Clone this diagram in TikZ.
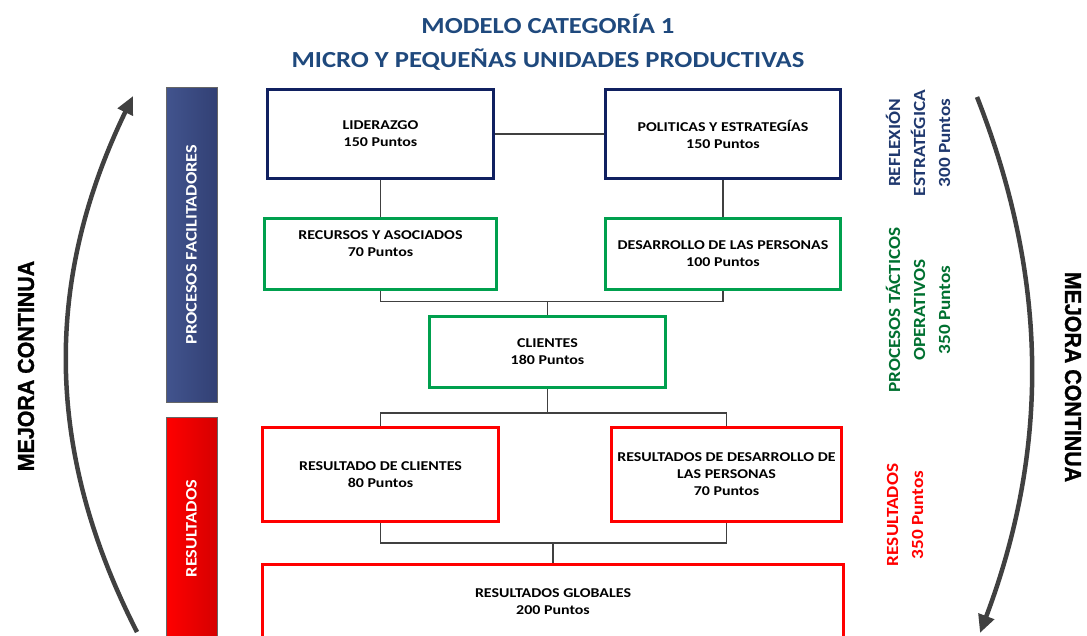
\documentclass[tikz,border=0pt]{standalone}
\usepackage{fontspec}
\usepackage{graphicx}
\setmainfont{Carlito}
\newfontfamily\titlefont[FakeStretch=1.16]{Carlito}
\newfontfamily\boxfont[FakeStretch=1.18]{Carlito}
\newfontfamily\sidefont[FakeStretch=1.13]{Carlito}
\newfontfamily\barfont[FakeStretch=1.14]{Carlito}
\newfontfamily\arialfont[FakeBold=1.2]{Liberation Sans}
\usepackage{tikz}
\usetikzlibrary{calc,arrows.meta}

\definecolor{navy}{RGB}{16,32,96}
\definecolor{titleblue}{RGB}{31,73,125}
\definecolor{boxgreen}{RGB}{0,160,78}
\definecolor{txtgreen}{RGB}{0,112,48}
\definecolor{txtnavy}{RGB}{31,56,110}
\definecolor{linegray}{RGB}{64,64,64}

\newcommand{\mejoralabel}{\scalebox{0.93}[1]{MEJORA CONTINUA}}

\tikzset{
  box/.style={draw, line width=3pt, fill=white, align=center, inner sep=1pt,
    font=\boxfont\bfseries\fontsize{13.5}{17}\selectfont},
  bluebox/.style={box, draw=navy},
  greenbox/.style={box, draw=boxgreen},
  redbox/.style={box, draw=red},
  bar/.style={draw=black!60, line width=0.8pt, rotate=90, text=white,
    font=\barfont\bfseries\fontsize{16}{18}\selectfont},
  side/.style={rotate=90, align=center, font=\sidefont\bfseries\fontsize{17}{25}\selectfont},
  link/.style={draw=linegray, line width=1.5pt},
  mejora/.style={draw=linegray, line width=4.5pt, -{Triangle[length=18pt,width=16pt]}},
  mejoratext/.style={font=\arialfont\bfseries\fontsize{23}{28}\selectfont, text=black},
}

\begin{document}
\begin{tikzpicture}[x=1pt, y=-1pt]
        \useasboundingbox (0,0) rectangle (1087,635);

        % Title
        \node[align=center, text=titleblue, font=\titlefont\bfseries\fontsize{23}{34}\selectfont] (Title) at (548, 42) {MODELO CATEGORÍA 1\\MICRO Y PEQUEÑAS UNIDADES PRODUCTIVAS};

        % Bars
        \node[bar, minimum width=315, minimum height=51, left color={rgb,255:red,66;green,84;blue,142}, right color={rgb,255:red,50;green,64;blue,116}] (Facilitadores) at (191.5, 244.5) {PROCESOS FACILITADORES};
        \node[bar, minimum width=223, minimum height=51, left color={rgb,255:red,255;green,0;blue,0}, right color={rgb,255:red,214;green,0;blue,0}] (Resultados) at (191.5, 528.5) {RESULTADOS};

        % Strategic level
        \node[bluebox, minimum width=226, minimum height=89] (Liderazgo) at (380.5, 134) {LIDERAZGO\\150 Puntos};
        \node[bluebox, minimum width=235, minimum height=89] (Politicas) at (723, 134) {POLITICAS Y ESTRATEGÍAS\\150 Puntos};
        \draw[link] (Liderazgo) -- (Politicas);

        % Operative level
        \node[greenbox, minimum width=232, minimum height=71] (Recursos) at (380.5, 254) {RECURSOS Y ASOCIADOS\\70 Puntos\\[4pt]};
        \node[greenbox, minimum width=235, minimum height=71] (Desarrollo) at (723, 254) {DESARROLLO DE LAS PERSONAS\\100 Puntos};
        \node[greenbox, minimum width=236, minimum height=71] (Clientes) at (547.5, 352) {CLIENTES\\180 Puntos};
        \draw[link] (Liderazgo.south) -- (Recursos.north);
        \draw[link] (Politicas.south) -- (Desarrollo.north);
        \coordinate (j1) at ($(Recursos.south)+(0,10.5)$);
        \draw[link] (Recursos.south) -- (j1) -| (Desarrollo.south);
        \draw[link] (Clientes.north) -- (Clientes.north |- j1);

        % Results level
        \node[redbox, minimum width=236, minimum height=94] (ResClientes) at (380.5, 474.5) {RESULTADO DE CLIENTES\\80 Puntos};
        \node[redbox, minimum width=230, minimum height=94] (ResPersonas) at (726.5, 474.5) {RESULTADOS DE DESARROLLO DE\\LAS PERSONAS\\70 Puntos};
        \node[redbox, minimum width=581, minimum height=74] (ResGlobales) at (553, 601.5) {RESULTADOS GLOBALES\\200 Puntos};
        \coordinate (j2) at ($(Clientes.south)+(0,24)$);
        \draw[link] (Clientes.south) -- (j2);
        \draw[link] (ResClientes.north) |- (j2) -| (ResPersonas.north);
        \coordinate (j3) at ($(ResGlobales.north)+(0,-20)$);
        \draw[link] (ResClientes.south) |- (j3) -| (ResPersonas.south);
        \draw[link] (ResGlobales.north) -- (j3);

        % Side labels
        \node[side, text=txtnavy] (Reflexion) at (918, 143) {REFLEXIÓN\\ESTRATÉGICA\\300 Puntos};
        \node[side, text=txtgreen] (Tacticos) at (918, 310) {PROCESOS TÁCTICOS\\OPERATIVOS\\350 Puntos};
        \node[side, text=red] (SideResultados) at (905, 515) {RESULTADOS\\350 Puntos};

        % Continuous improvement
        \node[mejoratext, rotate=90] (MejoraL) at (26, 366) {\mejoralabel};
        \node[mejoratext, rotate=-90] (MejoraR) at (1073, 377) {\mejoralabel};
        \coordinate (lbot) at (137, 632);
        \coordinate (ltop) at (133, 96);
        \coordinate (rtop) at (977, 97);
        \coordinate (rbot) at (980, 633);
        \draw[mejora] (lbot) .. controls (44, 450) and (44, 280) .. (ltop);
        \draw[mejora] (rtop) .. controls (1049, 280) and (1049, 450) .. (rbot);
\end{tikzpicture}
\end{document}
